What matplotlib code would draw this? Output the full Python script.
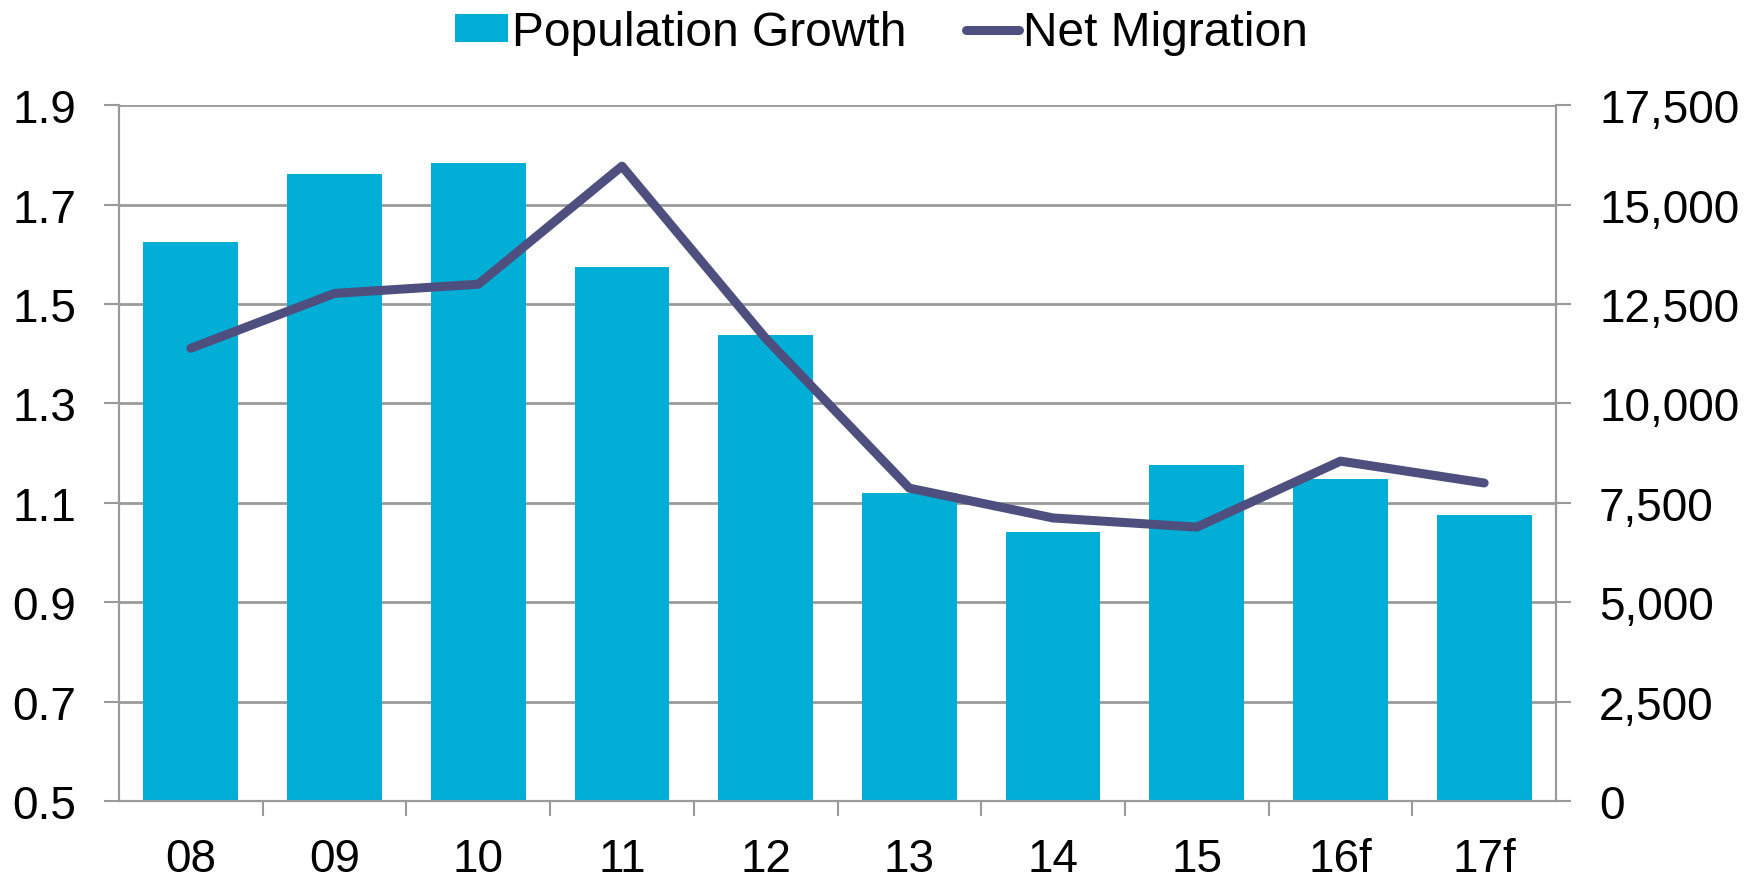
import numpy as np
import matplotlib
matplotlib.use("Agg")
import matplotlib.pyplot as plt
from matplotlib.ticker import FuncFormatter, FixedLocator

plt.rcParams['font.family'] = ['Liberation Sans', 'DejaVu Sans']

years = ['08', '09', '10', '11', '12', '13', '14', '15', '16f', '17f']
pop_growth = [1.626, 1.762, 1.785, 1.574, 1.438, 1.119, 1.041, 1.176, 1.149, 1.075]
net_migration = [11390, 12770, 13000, 15970, 11640, 7870, 7120, 6890, 8550, 8000]

bar_color = '#00AED6'
line_color = '#4E4F7F'
grid_color = '#9A9A9A'
fs = 33

fig = plt.figure(figsize=(17.63, 8.79), dpi=100)
ax = fig.add_axes([0.0675, 0.0876, 0.8151, 0.7914])
ax2 = ax.twinx()

x = np.arange(len(years))
bars = ax.bar(x, pop_growth, width=0.66, color=bar_color, label='Population Growth', zorder=2)
ax.set_ylim(0.5, 1.9)
ax.set_xlim(-0.5, len(years) - 0.5)
ax.set_yticks(np.arange(0.5, 1.91, 0.2))
ax.yaxis.set_major_formatter(FuncFormatter(lambda v, p: f"{v:.1f}"))
ax.grid(axis='y', color=grid_color, linewidth=2, zorder=0)
ax.set_axisbelow(True)

line, = ax2.plot(x, net_migration, color=line_color, linewidth=6.5, label='Net Migration',
                 solid_capstyle='round', zorder=3)
ax2.set_ylim(0, 17500)
ax2.set_yticks(np.arange(0, 17501, 2500))
ax2.yaxis.set_major_formatter(FuncFormatter(lambda v, p: f"{int(v):,}"))

# category labels, ticks at the boundaries
ax.set_xticks(x)
ax.set_xticklabels(years)
ax.xaxis.set_minor_locator(FixedLocator(np.arange(0.5, len(years) - 0.5, 1)))
ax.tick_params(axis='x', which='major', length=0, pad=26, labelsize=fs)
ax.tick_params(axis='x', which='minor', length=11, width=1.5, color=grid_color)
ax.tick_params(axis='y', length=11, width=1.5, color=grid_color, pad=20, labelsize=fs)
ax2.tick_params(axis='y', length=11, width=1.5, color=grid_color, pad=20, labelsize=fs)

for a in (ax, ax2):
    a.spines['top'].set_visible(False)
    for s in ('left', 'right', 'bottom'):
        a.spines[s].set_color(grid_color)
        a.spines[s].set_linewidth(1.5)

fig.legend([bars, line], ['Population Growth', 'Net Migration'], loc='center',
           bbox_to_anchor=(0.5, 0.962), ncol=2, frameon=False, fontsize=34.5,
           handlelength=1.1, handleheight=0.5, handletextpad=0.08, columnspacing=1.25,
           borderaxespad=0)

fig.savefig('out.png', dpi=100)
